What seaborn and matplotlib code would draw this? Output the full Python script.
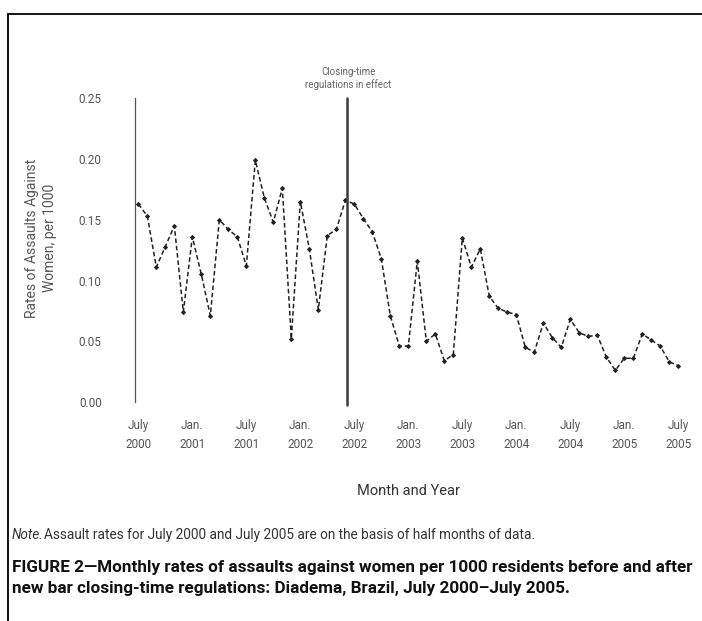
import numpy as np
import pandas as pd
import matplotlib
matplotlib.use("Agg")
import matplotlib.pyplot as plt
import seaborn as sns
from matplotlib.patches import Rectangle

# ---- data ----
rates = [0.163, 0.153, 0.111, 0.128, 0.145, 0.074, 0.136, 0.105, 0.071, 0.150,
         0.142, 0.136, 0.112, 0.199, 0.168, 0.148, 0.176, 0.052, 0.165, 0.126,
         0.076, 0.137, 0.142, 0.166, 0.163, 0.151, 0.140, 0.118, 0.071, 0.046,
         0.046, 0.116, 0.050, 0.056, 0.034, 0.039, 0.135, 0.111, 0.126, 0.087,
         0.077, 0.074, 0.072, 0.045, 0.041, 0.065, 0.053, 0.045, 0.068, 0.057,
         0.054, 0.055, 0.037, 0.026, 0.036, 0.036, 0.056, 0.051, 0.046, 0.033,
         0.030]
month_index = list(range(len(rates)))  # 0 = July 2000 ... 60 = July 2005
tick_months = [0, 6, 12, 18, 24, 30, 36, 42, 48, 54, 60]
tick_labels = ["July\n2000", "Jan.\n2001", "July\n2001", "Jan.\n2002", "July\n2002",
               "Jan.\n2003", "July\n2003", "Jan.\n2004", "July\n2004", "Jan.\n2005",
               "July\n2005"]
y_ticks = [0.00, 0.05, 0.10, 0.15, 0.20, 0.25]
regulation_start = 23.2

df = pd.DataFrame({"month": month_index, "rate": rates})

sns.set_theme(style="white")
plt.rcParams["font.family"] = ["Roboto", "DejaVu Sans"]

W, H = 702, 621
fig = plt.figure(figsize=(W / 100, H / 100), dpi=100)
ax = fig.add_axes([135 / W, (H - 402) / H, 547.8 / W, (402 - 98.3) / H])

sns.lineplot(data=df, x="month", y="rate", ax=ax, color="#222222", linewidth=1.1,
             linestyle=(0, (3, 1.8)), marker="D", markersize=2.0,
             markeredgecolor="#222222", markerfacecolor="#222222")

ax.axvline(regulation_start, ymin=-0.01, ymax=1.0, color="#3a3a3a", linewidth=1.8,
           clip_on=False)
ax.annotate("Closing-time\nregulations in effect", xy=(regulation_start, 0.25),
            xytext=(1, 6), textcoords="offset points", ha="center", va="bottom",
            fontsize=7, color="#666666", linespacing=1.25)

ax.set_xlim(-0.37, 60.5)
ax.set_ylim(0, 0.25)
ax.set_xticks(tick_months)
ax.set_xticklabels(tick_labels, fontsize=8.5, color="#555555", linespacing=1.6)
ax.set_yticks(y_ticks)
ax.set_yticklabels([f"{v:.2f}" for v in y_ticks], fontsize=8.5, color="#555555")
ax.tick_params(axis="y", direction="out", length=3, width=0.8, color="#555555", pad=21)
ax.tick_params(axis="x", direction="out", length=2, width=0.8, color="#777777", pad=10)
ax.set_xlabel("")
ax.set_ylabel("")
for side in ["top", "right", "bottom"]:
    ax.spines[side].set_visible(False)
ax.spines["left"].set_color("#555555")
ax.spines["left"].set_linewidth(0.9)
ax.grid(False)

fig.text(41 / W, 1 - 238 / H, "Rates of Assaults Against\nWomen, per 1000", rotation=90,
         ha="center", va="center", fontsize=10, color="#555555", linespacing=1.4)
fig.text(408 / W, 1 - 491 / H, "Month and Year", ha="center", va="center",
         fontsize=10.5, color="#333333")

fig.text(12 / W, 1 - 535 / H, "Note.", ha="left", va="center", fontsize=9.8,
         style="italic", color="#333333")
fig.text(44 / W, 1 - 535 / H,
         "Assault rates for July 2000 and July 2005 are on the basis of half months of data.",
         ha="left", va="center", fontsize=9.8, color="#333333")
fig.text(12 / W, 1 - 578 / H,
         "FIGURE 2\u2014Monthly rates of assaults against women per 1000 residents before and after\n"
         "new bar closing-time regulations: Diadema, Brazil, July 2000\u2013July 2005.",
         ha="left", va="center", fontsize=12.35, fontweight="bold", color="#111111",
         linespacing=1.45)

fig.patches.append(Rectangle((8 / W, -0.5), 2.0, 0.5 + (1 - 14 / H), transform=fig.transFigure,
                             fill=False, edgecolor="black", linewidth=1.3))

fig.savefig("out.png", dpi=100)
